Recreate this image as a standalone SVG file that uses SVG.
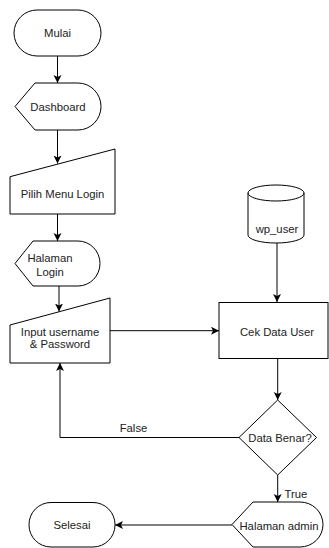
<svg xmlns="http://www.w3.org/2000/svg" width="329" height="548" viewBox="0 0 329 548">
<style>
.s{fill:#fff;stroke:#000;stroke-width:1}
.t{font-family:"Liberation Sans",Arial,sans-serif;font-size:11.3px;fill:#222;text-anchor:middle;dominant-baseline:central}
.c{fill:none;stroke:#000;stroke-width:1}
</style>
<defs>
<marker id="a" markerUnits="userSpaceOnUse" markerWidth="10" markerHeight="10" refX="8" refY="4" orient="auto">
<path d="M0,0 L8,4 L0,8 L2,4 Z" fill="#000"/>
</marker>
</defs>
<rect width="329" height="548" fill="#fff"/>
<g id="connectors">
<path class="c" d="M57.5,56 V83" marker-end="url(#a)"/>
<path class="c" d="M57.5,130 V163.5" marker-end="url(#a)"/>
<path class="c" d="M57.5,214 V241" marker-end="url(#a)"/>
<path class="c" d="M59,286 V311.5" marker-end="url(#a)"/>
<path class="c" d="M110,330.7 H219" marker-end="url(#a)"/>
<path class="c" d="M277,243 V302" marker-end="url(#a)"/>
<path class="c" d="M277.7,358 V400" marker-end="url(#a)"/>
<path class="c" d="M239,437.5 H60 V363" marker-end="url(#a)"/>
<path class="c" d="M277.7,475 V502" marker-end="url(#a)"/>
<path class="c" d="M232,525 H115" marker-end="url(#a)"/>
<text class="t" x="133.5" y="428">False</text>
<text class="t" x="296" y="494">True</text>
</g>
<g id="mulai">
<rect class="s" x="14" y="10" width="87" height="46" rx="23" ry="23"/>
<text class="t" x="57.5" y="33">Mulai</text>
</g>
<g id="dashboard">
<path class="s" d="M15,106.5 L35,83 H78 A23,23.5 0 0 1 78,130 H35 Z"/>
<text class="t" x="58" y="107">Dashboard</text>
</g>
<g id="pilih-menu-login">
<path class="s" d="M10,176.7 L115,149 V214 H10 Z"/>
<text class="t" x="62.5" y="194">Pilih Menu Login</text>
</g>
<g id="halaman-login">
<path class="s" d="M15,263.5 L33,241 H78 A22,22.5 0 0 1 78,286 H33 Z"/>
<text class="t" x="50" y="258">Halaman</text>
<text class="t" x="50" y="272">Login</text>
</g>
<g id="input-username">
<path class="s" d="M10,325 L110,298 V363 H10 Z"/>
<text class="t" x="60" y="332">Input username</text>
<text class="t" x="60" y="344">&amp; Password</text>
</g>
<g id="wp-user">
<path class="s" d="M248,193 A28,8 0 0 1 304,193 V235 A28,8 0 0 1 248,235 Z"/>
<path class="c" d="M248,193 A28,8 0 0 0 304,193"/>
<text class="t" x="277" y="229">wp_user</text>
</g>
<g id="cek-data-user">
<rect class="s" x="219" y="302.5" width="109" height="56"/>
<text class="t" x="277" y="331.5">Cek Data User</text>
</g>
<g id="data-benar">
<path class="s" d="M277.7,400 L316.5,437.5 L277.7,475 L239,437.5 Z"/>
<text class="t" x="280" y="438">Data Benar?</text>
</g>
<g id="halaman-admin">
<path class="s" d="M232,524.5 L253,502 H300 A23,22.5 0 0 1 300,547 H253 Z"/>
<text class="t" x="279" y="526">Halaman admin</text>
</g>
<g id="selesai">
<rect class="s" x="29" y="502.5" width="86" height="44.5" rx="22" ry="22"/>
<text class="t" x="72" y="525">Selesai</text>
</g>
</svg>
